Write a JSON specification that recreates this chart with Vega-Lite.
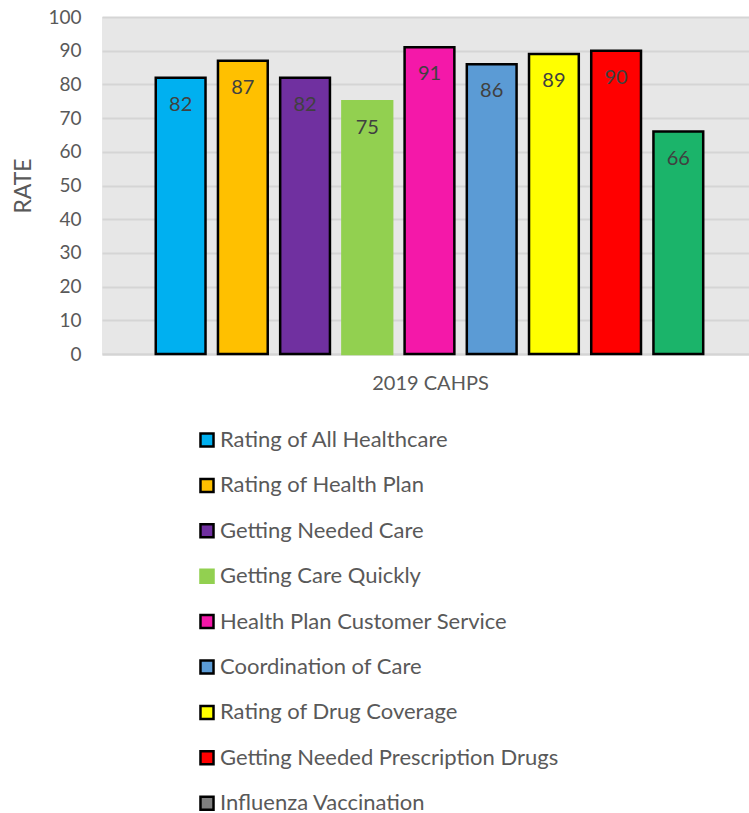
{
  "$schema": "https://vega.github.io/schema/vega-lite/v6.json",
  "autosize": {"type": "none"},
  "width": 647,
  "height": 337,
  "padding": {"left": 102, "top": 17, "right": 0, "bottom": 459},
  "background": "white",
  "config": {
    "font": "Lato",
    "view": {"fill": "#E7E7E7", "stroke": null}
  },
  "data": {
    "values": [
      {"measure": "Rating of All Healthcare", "rate": 82},
      {"measure": "Rating of Health Plan", "rate": 87},
      {"measure": "Getting Needed Care", "rate": 82},
      {"measure": "Getting Care Quickly", "rate": 75},
      {"measure": "Health Plan Customer Service", "rate": 91},
      {"measure": "Coordination of Care", "rate": 86},
      {"measure": "Rating of Drug Coverage", "rate": 89},
      {"measure": "Getting Needed Prescription Drugs", "rate": 90},
      {"measure": "Influenza Vaccination", "rate": 66}
    ]
  },
  "encoding": {
    "x": {
      "field": "measure",
      "type": "nominal",
      "sort": null,
      "scale": {"paddingInner": 0.2, "paddingOuter": 0.8, "align": 0.54},
      "axis": {
        "labels": false,
        "ticks": false,
        "domain": true,
        "domainColor": "#D4D4D4",
        "domainWidth": 2,
        "title": "2019 CAHPS",
        "titleFont": "Lato",
        "titleFontSize": 20,
        "titleFontWeight": "normal",
        "titleColor": "#595959",
        "titlePadding": 19,
        "titleX": 328
      }
    },
    "y": {
      "field": "rate",
      "type": "quantitative",
      "scale": {"domain": [0, 100]},
      "axis": {
        "values": [0, 10, 20, 30, 40, 50, 60, 70, 80, 90, 100],
        "title": "RATE",
        "titleFont": "Lato",
        "titleFontSize": 23,
        "titleFontWeight": "normal",
        "titleColor": "#595959",
        "titlePadding": 12,
        "labelFont": "Lato",
        "labelFontSize": 19,
        "labelColor": "#595959",
        "labelPadding": 21,
        "ticks": false,
        "domain": false,
        "gridColor": "#D5D5D5",
        "gridWidth": 2
      }
    }
  },
  "layer": [
    {
      "mark": {"type": "bar", "strokeWidth": 2.5},
      "encoding": {
        "fill": {
          "condition": {"test": "datum.measure === 'Influenza Vaccination'", "value": "#1BB46A"},
          "field": "measure",
          "type": "nominal",
          "sort": null,
          "scale": {
            "domain": ["Rating of All Healthcare", "Rating of Health Plan", "Getting Needed Care", "Getting Care Quickly", "Health Plan Customer Service", "Coordination of Care", "Rating of Drug Coverage", "Getting Needed Prescription Drugs", "Influenza Vaccination"],
            "range": ["#00B0F0", "#FFC000", "#7030A0", "#92D050", "#F418A9", "#5B9BD5", "#FFFF00", "#FF0000", "#7F7F7F"]
          },
          "legend": {
            "title": null,
            "orient": "none",
            "legendX": 94,
            "legendY": 412,
            "direction": "vertical",
            "symbolType": "square",
            "symbolSize": 170,
            "symbolStrokeWidth": 2.5,
            "labelFont": "Lato",
            "labelFontSize": 22,
            "labelColor": "#595959",
            "labelOffset": 2,
            "rowPadding": 21.4,
            "labelLimit": 500
          }
        },
        "stroke": {
          "field": "measure",
          "type": "nominal",
          "sort": null,
          "scale": {
            "domain": ["Rating of All Healthcare", "Rating of Health Plan", "Getting Needed Care", "Getting Care Quickly", "Health Plan Customer Service", "Coordination of Care", "Rating of Drug Coverage", "Getting Needed Prescription Drugs", "Influenza Vaccination"],
            "range": ["#000000", "#000000", "#000000", "#92D050", "#000000", "#000000", "#000000", "#000000", "#000000"]
          },
          "legend": null
        }
      }
    },
    {
      "mark": {"type": "text", "baseline": "middle", "align": "center", "dy": 27, "fontSize": 20, "font": "Lato", "color": "#404040"},
      "encoding": {
        "text": {"field": "rate", "type": "quantitative"}
      }
    }
  ]
}
